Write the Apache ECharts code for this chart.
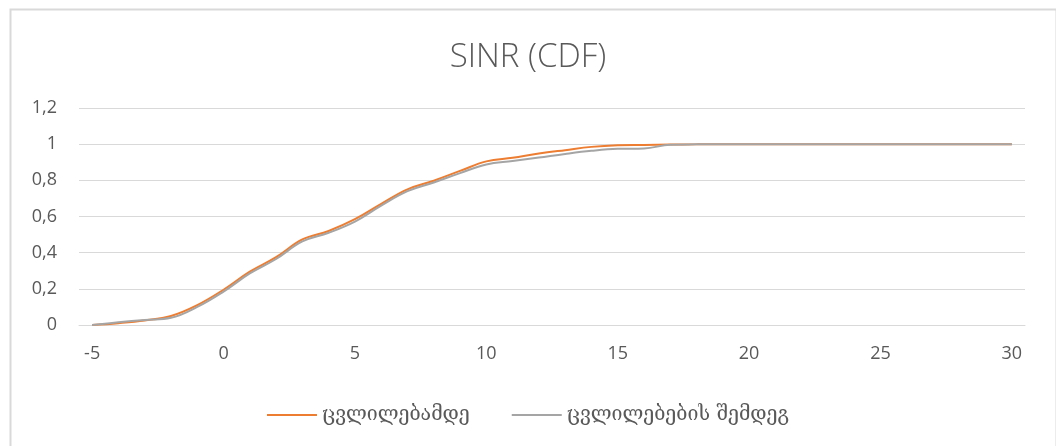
<!DOCTYPE html>
<html>
<head>
<meta charset="utf-8">
<script src="https://cdn.jsdelivr.net/npm/echarts@6/dist/echarts.min.js"></script>
<style>
  html, body { margin: 0; padding: 0; background: #ffffff; }
  #chart { width: 1056px; height: 446px; }
</style>
</head>
<body>
<div id="chart"></div>
<script>
// SINR values on the x axis (dB)
const sinrCategories = [-5, -4, -3, -2, -1, 0, 1, 2, 3, 4, 5, 6, 7, 8, 9, 10, 11, 12, 13, 14, 15, 16, 17, 18, 19, 20, 21, 22, 23, 24, 25, 26, 27, 28, 29, 30];

// CDF before the changes
const cdfBefore = [0, 0.01, 0.025, 0.05, 0.11, 0.195, 0.295, 0.375, 0.473, 0.52, 0.585, 0.67, 0.75, 0.798, 0.852, 0.905, 0.925, 0.948, 0.967, 0.985, 0.994, 0.996, 0.998, 0.999, 1, 1, 1, 1, 1, 1, 1, 1, 1, 1, 1, 1];

// CDF after the changes
const cdfAfter = [0, 0.015, 0.028, 0.04, 0.1, 0.185, 0.285, 0.365, 0.462, 0.51, 0.572, 0.66, 0.74, 0.788, 0.84, 0.888, 0.907, 0.926, 0.946, 0.963, 0.974, 0.976, 0.997, 0.999, 1, 1, 1, 1, 1, 1, 1, 1, 1, 1, 1, 1];

const seriesNames = ['ცვლილებამდე', 'ცვლილებების შემდეგ'];
const titleText = 'SINR (CDF)';

const chart = echarts.init(document.getElementById('chart'), null, { renderer: 'canvas' });

const textColor = '#595959';
const gridColor = '#d9d9d9';

chart.setOption({
  animation: false,
  backgroundColor: '#ffffff',
  graphic: [{
    type: 'rect',
    left: 8, top: 7,
    shape: { width: 1046, height: 450 },
    style: { fill: 'none', stroke: '#d9d9d9', lineWidth: 2 },
    silent: true
  }],
  title: {
    text: titleText,
    left: 'center',
    top: 36,
    textStyle: {
      fontFamily: 'Open Sans',
      fontWeight: 300,
      fontSize: 33,
      color: textColor
    }
  },
  legend: {
    data: seriesNames,
    left: 'center',
    top: 400,
    icon: 'rect',
    itemWidth: 50,
    itemHeight: 2,
    itemGap: 42,
    textStyle: {
      fontFamily: 'DejaVu Serif',
      fontSize: 19.5,
      color: textColor
    }
  },
  grid: {
    left: 79,
    right: 31,
    top: 108,
    bottom: 121,
    containLabel: false
  },
  xAxis: {
    type: 'category',
    data: sinrCategories,
    boundaryGap: true,
    axisLine: { show: true, lineStyle: { color: gridColor, width: 1 } },
    axisTick: { show: false },
    axisLabel: {
      interval: 4,
      margin: 20,
      fontFamily: 'Open Sans',
      fontSize: 18,
      color: textColor
    },
    splitLine: { show: false }
  },
  yAxis: {
    type: 'value',
    min: 0,
    max: 1.2,
    interval: 0.2,
    axisLine: { show: false },
    axisTick: { show: false },
    axisLabel: {
      margin: 22,
      fontFamily: 'Open Sans',
      fontSize: 18,
      color: textColor,
      formatter: v => String(Math.round(v * 10) / 10).replace('.', ',')
    },
    splitLine: { show: true, lineStyle: { color: gridColor, width: 1 } }
  },
  series: [
    {
      name: seriesNames[0],
      type: 'line',
      data: cdfBefore,
      smooth: 0.4,
      showSymbol: false,
      symbol: 'none',
      lineStyle: { color: '#ED7D31', width: 2 },
      itemStyle: { color: '#ED7D31' }
    },
    {
      name: seriesNames[1],
      type: 'line',
      data: cdfAfter,
      smooth: 0.4,
      showSymbol: false,
      symbol: 'none',
      lineStyle: { color: '#A5A5A5', width: 2 },
      itemStyle: { color: '#A5A5A5' }
    }
  ]
});
</script>
</body>
</html>
